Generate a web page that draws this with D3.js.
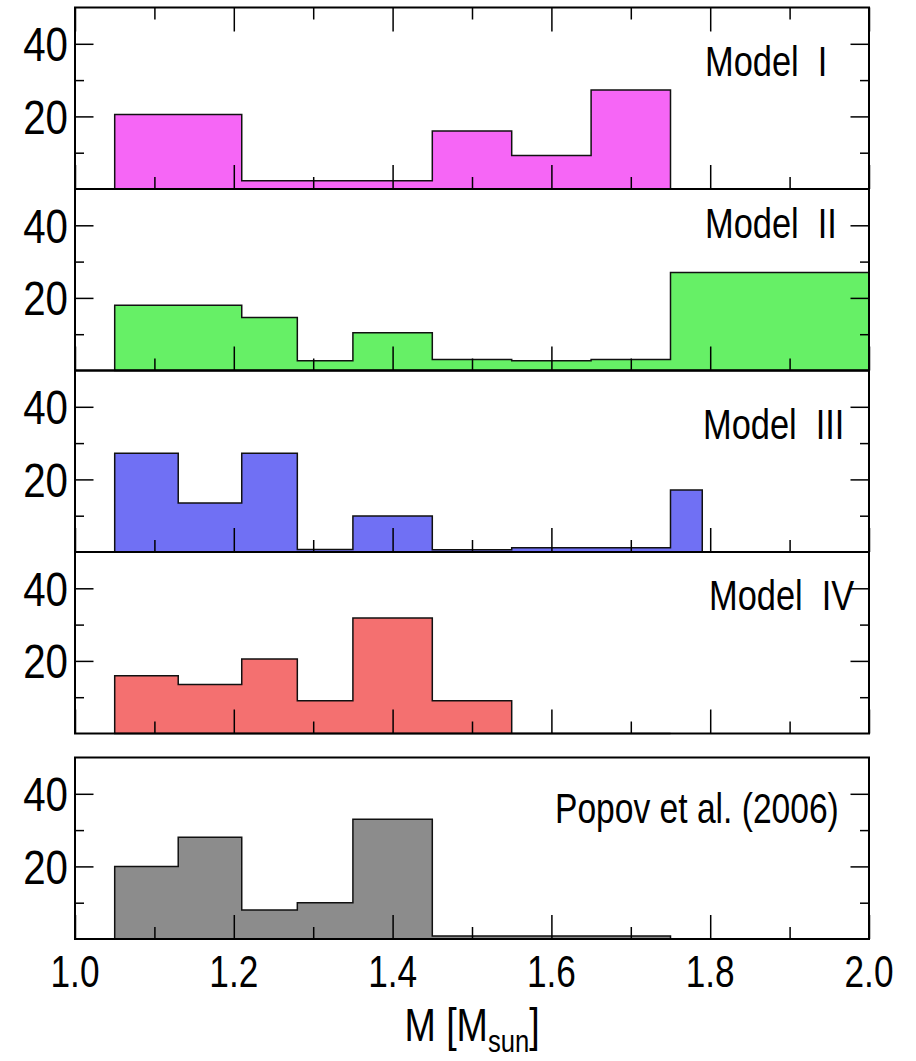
<!DOCTYPE html>
<html><head><meta charset="utf-8">
<script src="https://cdn.jsdelivr.net/npm/d3@7"></script>
<style>
body{margin:0;background:#fff}
text{font-family:"Liberation Sans",Arial,Helvetica,sans-serif;fill:#000}
</style>
</head><body>
<svg id="chart" width="916" height="1061"></svg>
<script>
// ---------------- data ----------------
const panelNames = ["Model\u00a0\u00a0I", "Model\u00a0\u00a0II", "Model\u00a0\u00a0III", "Model\u00a0\u00a0IV", "Popov et al. (2006)"];

const edgesI   = [1.05, 1.21, 1.45, 1.55, 1.65, 1.75];
const countsI  = [20.5, 2.3, 16.0, 9.2, 27.3];

const edgesII  = [1.05, 1.21, 1.28, 1.35, 1.45, 1.55, 1.65, 1.75, 2.0];
const countsII = [18.0, 14.6, 2.7, 10.4, 3.0, 2.7, 3.0, 27.0];

const edgesIII  = [1.05, 1.13, 1.21, 1.28, 1.35, 1.45, 1.55, 1.75, 1.79];
const countsIII = [27.2, 13.5, 27.2, 0.7, 9.9, 0.6, 1.2, 17.1];

const edgesIV  = [1.05, 1.13, 1.21, 1.28, 1.35, 1.45, 1.55, 1.75];
const countsIV = [15.9, 13.5, 20.5, 9.0, 31.8, 9.0, 0];

const edgesPopov  = [1.05, 1.13, 1.21, 1.28, 1.35, 1.45, 1.75];
const countsPopov = [20.0, 28.0, 8.0, 10.0, 33.0, 0.8];

const xDomain = [1.0, 2.0];
const yDomain = [0, 50];
const xTickMajor = [1.0, 1.2, 1.4, 1.6, 1.8, 2.0];
const xTickMinor = [1.1, 1.3, 1.5, 1.7, 1.9];
const xTickLabels = ["1.0", "1.2", "1.4", "1.6", "1.8", "2.0"];
const yTickMajor = [20, 40];
const yTickMinor = [10, 30];
const yTickLabels = ["20", "40"];

// ---------------- layout / style ----------------
const fills = ["#f666f6", "#66f066", "#7070f4", "#f47070", "#8c8c8c"];
const panelTops = [7.5, 189, 370.5, 552, 757.5];
const panelH = 181.5;
const left = 75, right = 869;
const labelPos = [[705, 68.5], [705, 49.3], [703, 68.8], [709, 58], [555, 65.5]];
const SX = 0.8;

const svg = d3.select("#chart");
const x = d3.scaleLinear().domain(xDomain).range([left, right]);

const series = [
  [edgesI, countsI], [edgesII, countsII], [edgesIII, countsIII],
  [edgesIV, countsIV], [edgesPopov, countsPopov]
];

function txt(g, px, py, str, size, anchor, sx) {
  return g.append("text")
    .attr("transform", `translate(${px},${py}) scale(${sx},1)`)
    .attr("text-anchor", anchor)
    .attr("font-size", size)
    .text(str);
}

series.forEach(([edges, counts], p) => {
  const top = panelTops[p], bottom = top + panelH;
  const y = d3.scaleLinear().domain(yDomain).range([bottom, top]);
  const g = svg.append("g");

  const data = edges.map((e, i) => ({ e, c: i < counts.length ? counts[i] : counts[counts.length - 1] }));
  const area = d3.area()
    .x(d => x(d.e)).y0(y(0)).y1(d => y(d.c))
    .curve(d3.curveStepAfter);
  g.append("path").datum(data)
    .attr("d", area)
    .attr("fill", fills[p])
    .attr("stroke", "#111")
    .attr("stroke-width", 1.5)
    .attr("stroke-linejoin", "miter");

  const tickStyle = sel => {
    sel.select(".domain").remove();
    sel.selectAll("line").attr("stroke", "#000").attr("stroke-width", 1.5);
    sel.selectAll("text").remove();
  };

  // x ticks (inside)
  g.append("g").attr("transform", `translate(0,${bottom})`)
    .call(d3.axisBottom(x).tickValues(xTickMajor).tickSizeInner(-24).tickSizeOuter(0).tickFormat(""))
    .call(tickStyle);
  g.append("g").attr("transform", `translate(0,${bottom})`)
    .call(d3.axisBottom(x).tickValues(xTickMinor).tickSizeInner(-12).tickSizeOuter(0).tickFormat(""))
    .call(tickStyle);
  if (p === 0) {
    g.append("g").attr("transform", `translate(0,${top})`)
      .call(d3.axisTop(x).tickValues(xTickMajor).tickSizeInner(-24).tickSizeOuter(0).tickFormat(""))
      .call(tickStyle);
    g.append("g").attr("transform", `translate(0,${top})`)
      .call(d3.axisTop(x).tickValues(xTickMinor).tickSizeInner(-12).tickSizeOuter(0).tickFormat(""))
      .call(tickStyle);
  }
  // y ticks both sides (inside)
  g.append("g").attr("transform", `translate(${left},0)`)
    .call(d3.axisLeft(y).tickValues(yTickMajor).tickSizeInner(-18.5).tickSizeOuter(0).tickFormat(""))
    .call(tickStyle);
  g.append("g").attr("transform", `translate(${left},0)`)
    .call(d3.axisLeft(y).tickValues(yTickMinor).tickSizeInner(-9).tickSizeOuter(0).tickFormat(""))
    .call(tickStyle);
  g.append("g").attr("transform", `translate(${right},0)`)
    .call(d3.axisRight(y).tickValues(yTickMajor).tickSizeInner(-18.5).tickSizeOuter(0).tickFormat(""))
    .call(tickStyle);
  g.append("g").attr("transform", `translate(${right},0)`)
    .call(d3.axisRight(y).tickValues(yTickMinor).tickSizeInner(-9).tickSizeOuter(0).tickFormat(""))
    .call(tickStyle);

  // frame
  g.append("rect")
    .attr("x", left).attr("y", top)
    .attr("width", right - left).attr("height", panelH)
    .attr("fill", "none").attr("stroke", "#000").attr("stroke-width", 2);

  // y tick labels
  yTickMajor.forEach((v, i) => {
    txt(g, 68, y(v) + 17.5, yTickLabels[i], 48, "end", 0.84);
  });

  // panel label
  txt(g, labelPos[p][0], top + labelPos[p][1], panelNames[p], p === 4 ? 42 : 43, "start", SX);

  if (p === series.length - 1) {
    xTickMajor.forEach((v, i) => {
      txt(g, x(v), bottom + 48, xTickLabels[i], 44, "middle", SX);
    });
    // axis title
    const t = svg.append("text")
      .attr("transform", `translate(${(left + right) / 2},1041) scale(${SX},1)`)
      .attr("text-anchor", "middle")
      .attr("font-size", 47);
    t.append("tspan").text("M [M");
    t.append("tspan").attr("font-size", 32).attr("dy", 11).text("sun");
    t.append("tspan").attr("dy", -11).text("]");
  }
});
</script>
</body></html>
